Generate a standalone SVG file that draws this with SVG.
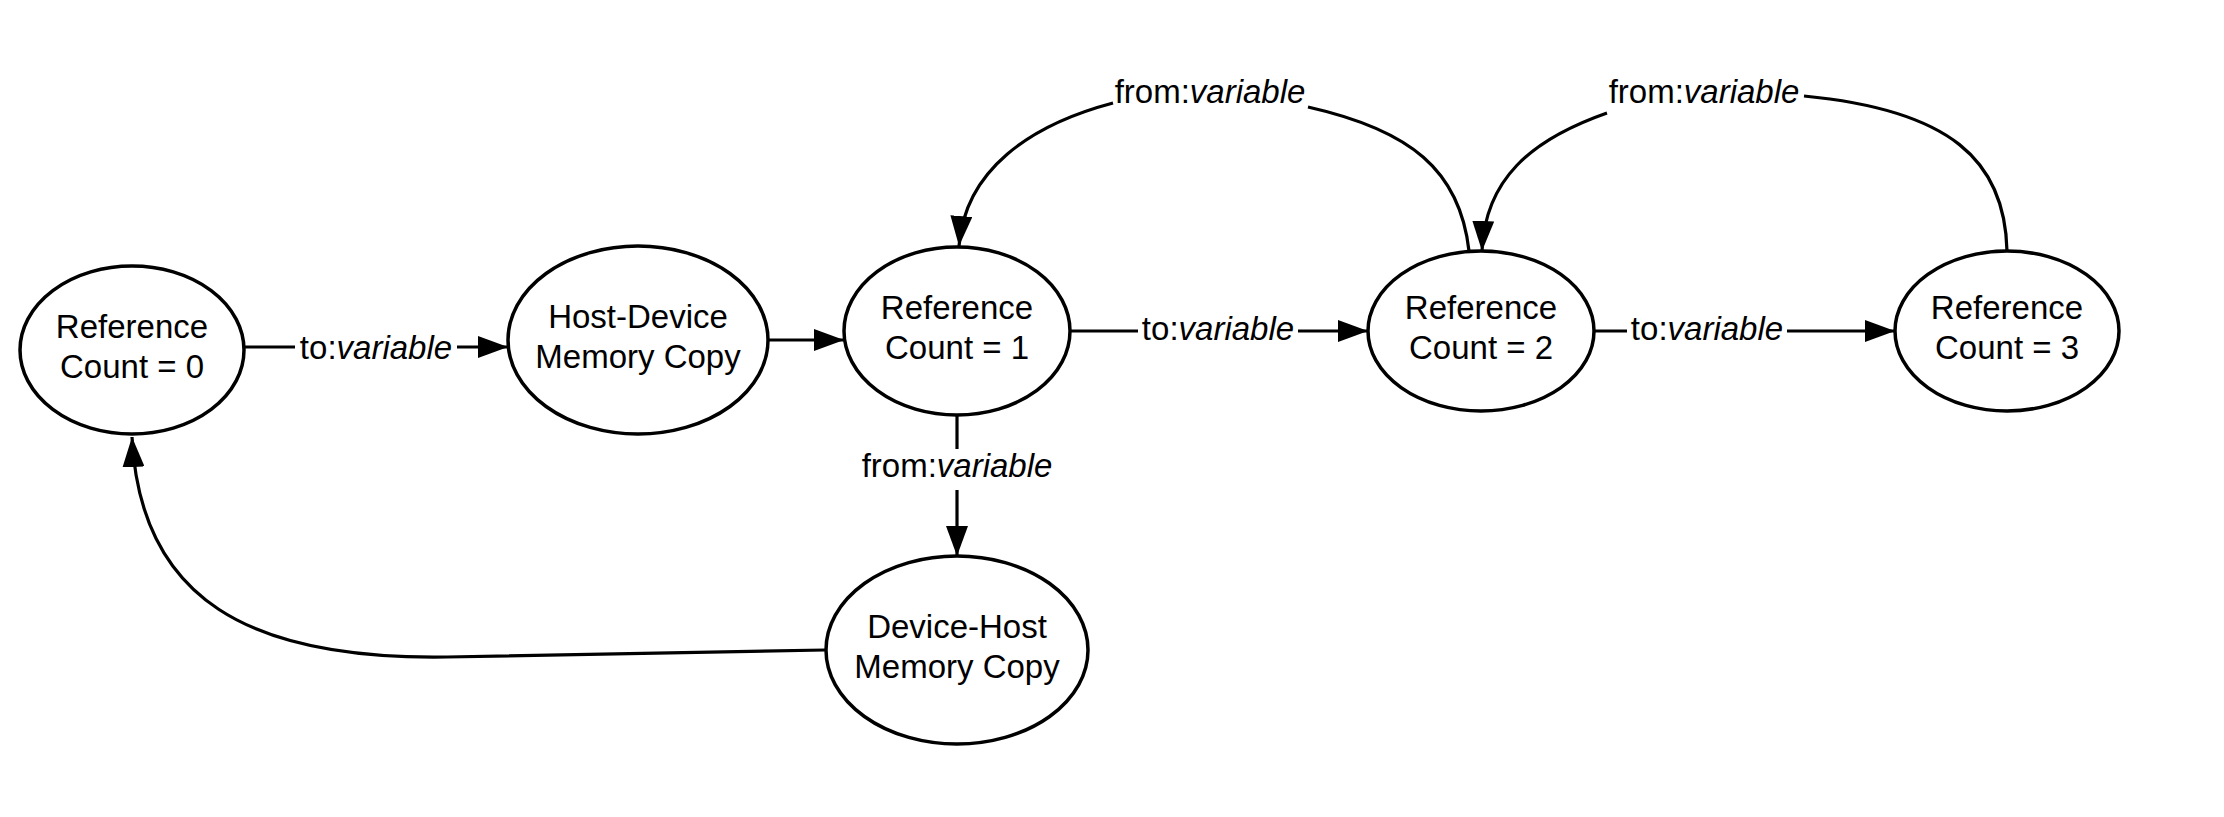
<svg xmlns="http://www.w3.org/2000/svg" width="2224" height="817" viewBox="0 0 2224 817">
<style>
.node ellipse{fill:#fff;stroke:#000;stroke-width:3.5}
.node text,.lbl{font-family:"Liberation Sans",Arial,sans-serif;font-size:33px;fill:#000;text-anchor:middle}
.lbl tspan.i{font-style:italic}
.edge{fill:none;stroke:#000;stroke-width:3.2}
</style>
<defs>
<marker id="ah" markerUnits="userSpaceOnUse" markerWidth="32" markerHeight="22" refX="30" refY="11" orient="auto">
<path d="M0,0 L30,11 L0,22 z" fill="#000"/>
</marker>
</defs>
<rect width="2224" height="817" fill="#fff"/>
<g id="connectors">
<line class="edge" x1="244" y1="347" x2="295" y2="347"/>
<line class="edge" x1="457" y1="347" x2="508" y2="347" marker-end="url(#ah)"/>
<line class="edge" x1="769" y1="340" x2="844" y2="340" marker-end="url(#ah)"/>
<line class="edge" x1="1070" y1="331" x2="1138" y2="331"/>
<line class="edge" x1="1298" y1="331" x2="1368" y2="331" marker-end="url(#ah)"/>
<line class="edge" x1="1594" y1="331" x2="1627" y2="331"/>
<line class="edge" x1="1787" y1="331" x2="1895" y2="331" marker-end="url(#ah)"/>
<line class="edge" x1="957" y1="416" x2="957" y2="449"/>
<line class="edge" x1="957" y1="490" x2="957" y2="556" marker-end="url(#ah)"/>
<path class="edge" d="M825 650 L447 657 C250 660 140 600 132 437" marker-end="url(#ah)"/>
<path class="edge" d="M1469 251 C1460 170 1410 130 1308 107"/>
<path class="edge" d="M1113 103 C1030 125 965 170 959 246" marker-end="url(#ah)"/>
<path class="edge" d="M2007 251 C2005 160 1950 110 1804 96"/>
<path class="edge" d="M1607 113 C1530 140 1485 180 1482 251" marker-end="url(#ah)"/>
<text class="lbl" x="376" y="359">to:<tspan class="i">variable</tspan></text>
<text class="lbl" x="1218" y="340">to:<tspan class="i">variable</tspan></text>
<text class="lbl" x="1707" y="340">to:<tspan class="i">variable</tspan></text>
<text class="lbl" x="957" y="477">from:<tspan class="i">variable</tspan></text>
<text class="lbl" x="1210" y="103">from:<tspan class="i">variable</tspan></text>
<text class="lbl" x="1704" y="103">from:<tspan class="i">variable</tspan></text>
</g>
<g id="rc0" class="node"><ellipse cx="132" cy="350" rx="112" ry="84"/><text x="132" y="338">Reference</text><text x="132" y="378">Count = 0</text></g>
<g id="hd" class="node"><ellipse cx="638" cy="340" rx="130" ry="94"/><text x="638" y="328">Host-Device</text><text x="638" y="368">Memory Copy</text></g>
<g id="rc1" class="node"><ellipse cx="957" cy="331" rx="113" ry="84"/><text x="957" y="319">Reference</text><text x="957" y="359">Count = 1</text></g>
<g id="rc2" class="node"><ellipse cx="1481" cy="331" rx="113" ry="80"/><text x="1481" y="319">Reference</text><text x="1481" y="359">Count = 2</text></g>
<g id="rc3" class="node"><ellipse cx="2007" cy="331" rx="112" ry="80"/><text x="2007" y="319">Reference</text><text x="2007" y="359">Count = 3</text></g>
<g id="dh" class="node"><ellipse cx="957" cy="650" rx="131" ry="94"/><text x="957" y="638">Device-Host</text><text x="957" y="678">Memory Copy</text></g>
</svg>
